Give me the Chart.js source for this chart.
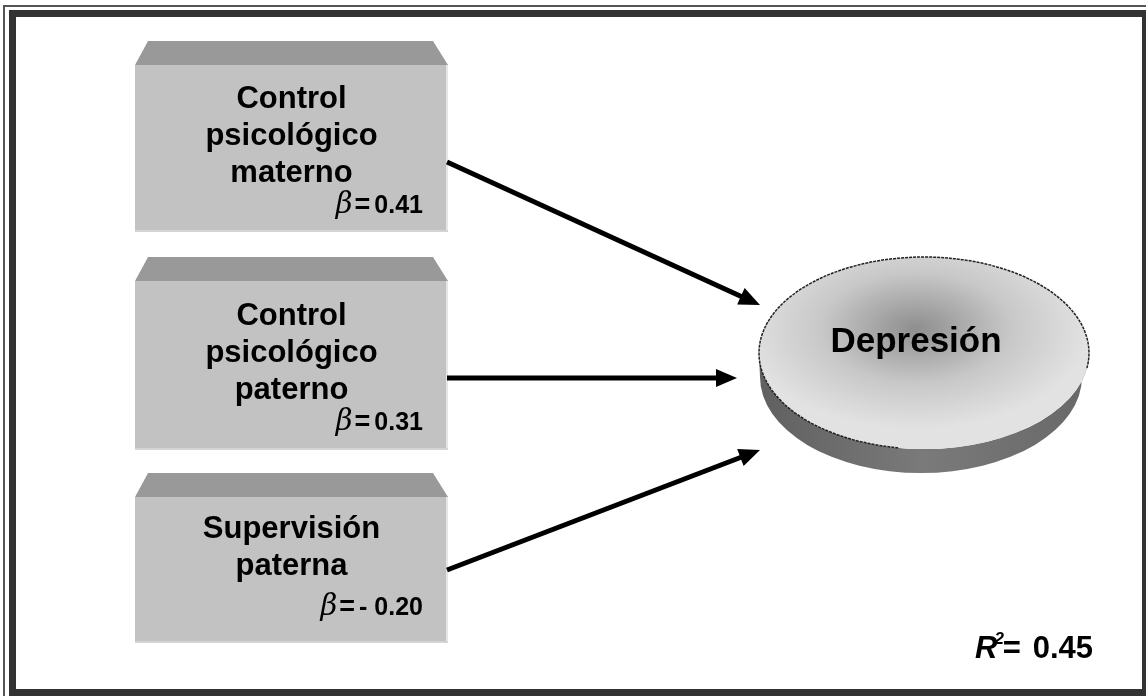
<!DOCTYPE html>
<html>
<head>
<meta charset="utf-8">
<script src="https://cdn.jsdelivr.net/npm/chart.js@4/dist/chart.umd.min.js"></script>
<style>
  html, body { margin: 0; padding: 0; background: #fff; }
  canvas { display: block; }
</style>
</head>
<body>
<canvas id="pathChart" width="1146" height="696"></canvas>
<script>
// Path model data
const predictors = [
    ['Control', 'psicológico', 'materno'],
    ['Control', 'psicológico', 'paterno'],
    ['Supervisión', 'paterna']
];
const betas = [0.41, 0.31, -0.20];
const outcome = 'Depresión';
const rSquared = 0.45;

// Layout of the diagram in canvas units (mapped through the chart scales)
const boxes = [
    { x0: 135, x1: 448, top: 41, bottom: 232, textY: 108, betaY: 213 },
    { x0: 135, x1: 448, top: 257, bottom: 450, textY: 325, betaY: 430 },
    { x0: 135, x1: 448, top: 473, bottom: 643, textY: 538, betaY: 615 }
];
const arrowStarts = [[447, 162], [447, 378], [447, 570]];
const arrowTips = [[760, 305], [737, 378], [760, 450]];
const ellipse = { cx: 924, cy: 353, rx: 165, ry: 96, depth: 24 };

const FONT = '"Liberation Sans", Arial, sans-serif';

function formatBeta(b) {
    return b < 0 ? '- ' + Math.abs(b).toFixed(2) : b.toFixed(2);
}

// arrow shafts stop short of the tip, the head is drawn by the plugin
const arrowDatasets = arrowStarts.map((s, i) => {
    const t = arrowTips[i];
    const len = Math.hypot(t[0] - s[0], t[1] - s[1]);
    const ux = (t[0] - s[0]) / len, uy = (t[1] - s[1]) / len;
    return {
        label: predictors[i].join(' '),
        data: [{ x: s[0], y: s[1] }, { x: t[0] - ux * 14, y: t[1] - uy * 14 }],
        showLine: true,
        borderColor: '#000',
        borderWidth: 5,
        pointRadius: 0,
        borderCapStyle: 'butt'
    };
});

const diagramPlugin = {
    id: 'diagram',
    beforeDatasetsDraw(chart) {
        const ctx = chart.ctx;
        const px = v => chart.scales.x.getPixelForValue(v);
        const py = v => chart.scales.y.getPixelForValue(v);

        ctx.save();
        // frame
        ctx.strokeStyle = '#555';
        ctx.lineWidth = 2;
        ctx.strokeRect(px(4), py(6), px(1160) - px(4), py(710) - py(6));
        ctx.strokeStyle = '#333';
        ctx.lineWidth = 7;
        ctx.strokeRect(px(12.5), py(13.5), px(1145.5) - px(12.5), py(692.5) - py(13.5));

        // predictor boxes
        boxes.forEach(b => {
            const bevel = 24;
            ctx.fillStyle = '#999999';
            ctx.beginPath();
            ctx.moveTo(px(b.x0 + 13), py(b.top));
            ctx.lineTo(px(b.x1 - 15), py(b.top));
            ctx.lineTo(px(b.x1), py(b.top + bevel));
            ctx.lineTo(px(b.x0), py(b.top + bevel));
            ctx.closePath();
            ctx.fill();
            ctx.fillStyle = '#c2c2c2';
            ctx.fillRect(px(b.x0), py(b.top + bevel), px(b.x1) - px(b.x0), py(b.bottom) - py(b.top + bevel));
            ctx.fillStyle = '#e6e6e6';
            ctx.fillRect(px(b.x1 - 2), py(b.top + bevel), px(b.x1) - px(b.x1 - 2), py(b.bottom) - py(b.top + bevel));
            ctx.fillStyle = '#d4d4d4';
            ctx.fillRect(px(b.x0), py(b.bottom - 2), px(b.x1) - px(b.x0), py(b.bottom) - py(b.bottom - 2));
        });

        // outcome cylinder
        const cx = px(ellipse.cx), cy = py(ellipse.cy);
        const rx = px(ellipse.cx + ellipse.rx) - cx, ry = py(ellipse.cy + ellipse.ry) - cy;
        const d = py(ellipse.cy + ellipse.depth) - cy;
        const side = ctx.createLinearGradient(cx - rx, 0, cx + rx, 0);
        side.addColorStop(0, '#606060');
        side.addColorStop(0.5, '#7a7a7a');
        side.addColorStop(1, '#686868');
        ctx.fillStyle = side;
        ctx.beginPath();
        ctx.ellipse(cx - 3, cy + d, rx - 4, ry, 0, 0, Math.PI);
        ctx.lineTo(cx - rx, cy);
        ctx.ellipse(cx, cy, rx, ry, 0, Math.PI, 0, true);
        ctx.closePath();
        ctx.fill();

        ctx.save();
        ctx.translate(cx, cy);
        ctx.scale(1, ry / rx);
        const grad = ctx.createRadialGradient(-8, -25 * rx / ry, 0, -8, -25 * rx / ry, rx * 1.05);
        grad.addColorStop(0, '#8e8e8e');
        grad.addColorStop(0.55, '#c8c8c8');
        grad.addColorStop(1, '#e2e2e2');
        ctx.fillStyle = grad;
        ctx.beginPath();
        ctx.arc(0, 0, rx, 0, Math.PI * 2);
        ctx.fill();
        ctx.restore();

        ctx.strokeStyle = '#222';
        ctx.lineWidth = 1.5;
        ctx.setLineDash([3, 1]);
        ctx.beginPath();
        ctx.ellipse(cx, cy, rx, ry, 0, Math.PI * 0.55, Math.PI * 2.05);
        ctx.stroke();
        ctx.setLineDash([]);
        ctx.restore();
    },
    afterDatasetsDraw(chart) {
        const ctx = chart.ctx;
        const px = v => chart.scales.x.getPixelForValue(v);
        const py = v => chart.scales.y.getPixelForValue(v);
        ctx.save();

        // arrow heads
        ctx.fillStyle = '#000';
        arrowTips.forEach((t, i) => {
            const s = arrowStarts[i];
            const a = Math.atan2(py(t[1]) - py(s[1]), px(t[0]) - px(s[0]));
            const L = 21, W = 9;
            const tx = px(t[0]), ty = py(t[1]);
            ctx.beginPath();
            ctx.moveTo(tx, ty);
            ctx.lineTo(tx - L * Math.cos(a) + W * Math.sin(a), ty - L * Math.sin(a) - W * Math.cos(a));
            ctx.lineTo(tx - L * Math.cos(a) - W * Math.sin(a), ty - L * Math.sin(a) + W * Math.cos(a));
            ctx.closePath();
            ctx.fill();
        });

        // box labels
        ctx.fillStyle = '#000';
        ctx.textBaseline = 'alphabetic';
        boxes.forEach((b, i) => {
            ctx.font = 'bold 31px ' + FONT;
            ctx.textAlign = 'center';
            const mid = px((b.x0 + b.x1) / 2);
            predictors[i].forEach((line, j) => {
                ctx.fillText(line, mid, py(b.textY + j * 37));
            });
            ctx.font = 'bold 25px ' + FONT;
            ctx.textAlign = 'right';
            const val = formatBeta(betas[i]);
            const rx = px(423);
            ctx.fillText(val, rx, py(b.betaY));
            let w = ctx.measureText(val).width + 4;
            ctx.font = 'bold 27px ' + FONT;
            ctx.fillText('=', rx - w, py(b.betaY));
            w += ctx.measureText('=').width + 2;
            ctx.font = 'italic 29px "DejaVu Serif", "Liberation Serif", serif';
            ctx.fillText('β', rx - w, py(b.betaY));
        });

        // outcome label
        ctx.font = 'bold 35px ' + FONT;
        ctx.textAlign = 'center';
        ctx.fillText(outcome, px(916), py(352));

        // R squared
        ctx.textAlign = 'left';
        ctx.font = 'italic bold 31px ' + FONT;
        let x = px(975);
        ctx.fillText('R', x, py(658));
        x += ctx.measureText('R').width - 3;
        ctx.font = 'italic bold 17px ' + FONT;
        ctx.fillText('2', x, py(644));
        x += ctx.measureText('2').width - 1;
        ctx.font = 'bold 31px ' + FONT;
        ctx.fillText('=', x, py(658));
        ctx.textAlign = 'right';
        ctx.fillText(rSquared.toFixed(2), px(1093), py(658));
        ctx.restore();
    }
};

new Chart(document.getElementById('pathChart'), {
    type: 'scatter',
    data: { datasets: arrowDatasets },
    options: {
        responsive: false,
        animation: false,
        devicePixelRatio: 1,
        layout: { padding: 0 },
        plugins: { legend: { display: false }, tooltip: { enabled: false } },
        scales: {
            x: { type: 'linear', min: 0, max: 1146, display: false },
            y: { type: 'linear', min: 0, max: 696, reverse: true, display: false }
        }
    },
    plugins: [diagramPlugin]
});
</script>
</body>
</html>
